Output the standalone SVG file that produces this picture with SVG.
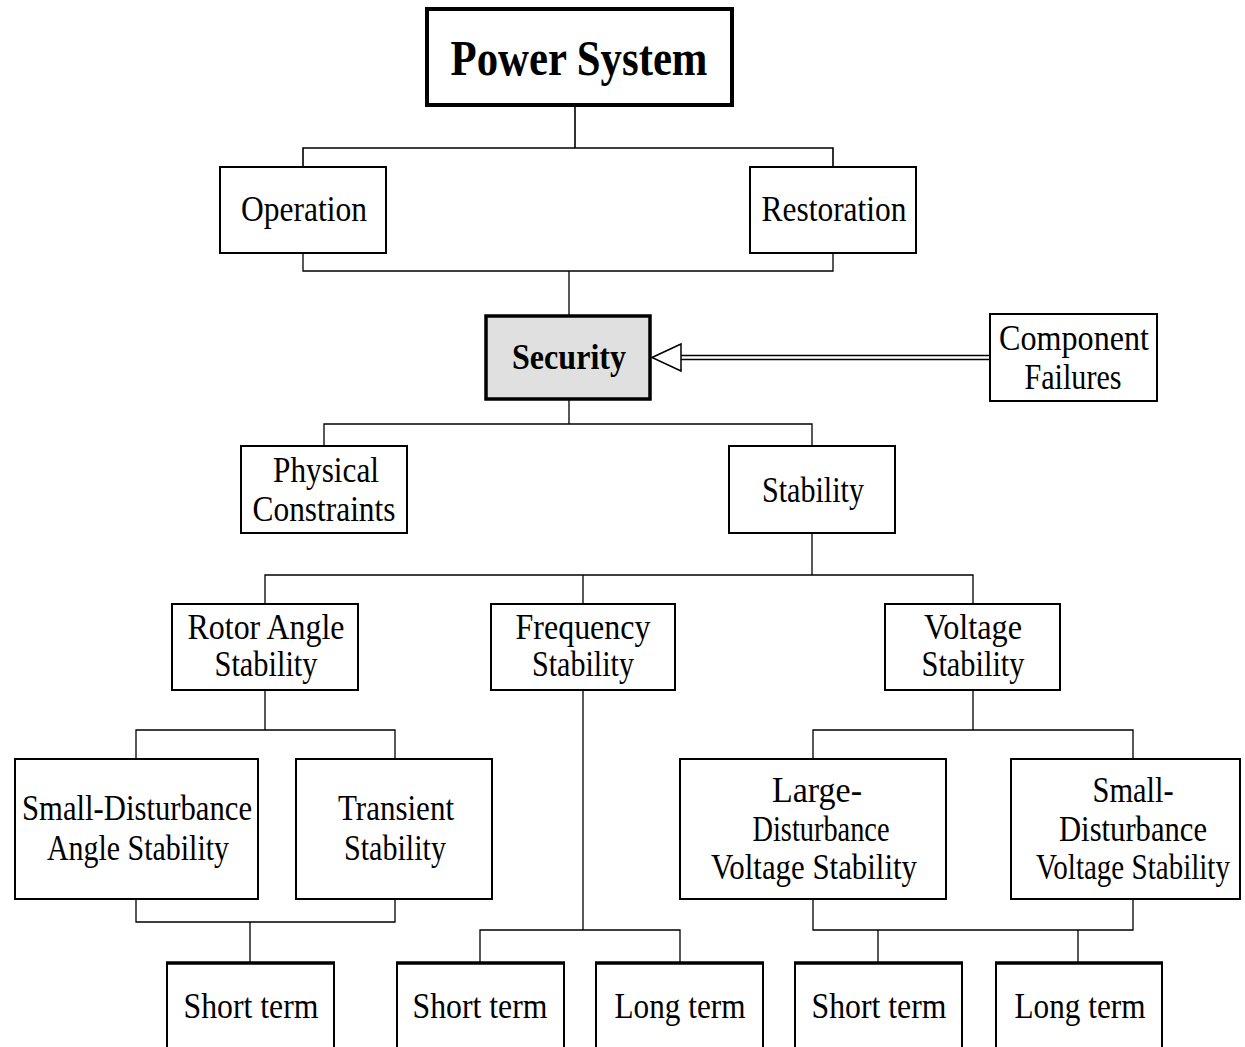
<svg xmlns="http://www.w3.org/2000/svg" width="1245" height="1047" viewBox="0 0 1245 1047">
<style>
.box{fill:#fff;stroke:#000;stroke-width:2}
.thick{stroke-width:4}
.sec{fill:#e0e0e0;stroke:#000;stroke-width:3.5}
.t{font-family:"Liberation Serif","Times New Roman",serif;font-size:35px;text-anchor:middle;fill:#000}
.b{font-weight:bold}
.c{fill:none;stroke:#000;stroke-width:1.3}
.top{stroke:#000;stroke-width:3.5}
</style>
<rect width="1245" height="1047" fill="#fff"/>
<g id="connectors">
<path class="c" d="M575,106V148M303,166V148H833V166" style="stroke-width:1.6"/>
<path class="c" d="M303,253V271H833V253M569,271V315"/>
<path class="c" d="M569,399V424M324,445V424H812V445"/>
<path class="c" d="M812,533V575M265,603V575H973V603M583,575V603"/>
<path class="c" d="M265,690V730M136,758V730H395V758"/>
<path class="c" d="M136,899V922H395V899M250,922V962"/>
<path class="c" d="M583,690V930M480,962V930H680V962"/>
<path class="c" d="M973,690V730M813,758V730H1133V758"/>
<path class="c" d="M813,899V930H1133V899M878,930V962M1078,930V962"/>
<path class="c" d="M681,355.5H989M681,359.5H989" style="stroke-width:1.5"/>
<path d="M652,357.5L681,344V371Z" fill="#fff" stroke="#000" stroke-width="1.5"/>
</g>
<g id="power-system"><rect class="box thick" x="427" y="9" width="305" height="96"/><text class="t b" x="579" y="75" style="font-size:50px" textLength="257" lengthAdjust="spacingAndGlyphs">Power System</text></g>
<g id="operation"><rect class="box" x="220" y="167" width="166" height="86"/><text class="t" x="304" y="221" textLength="126" lengthAdjust="spacingAndGlyphs">Operation</text></g>
<g id="restoration"><rect class="box" x="750" y="167" width="166" height="86"/><text class="t" x="834" y="221" textLength="145" lengthAdjust="spacingAndGlyphs">Restoration</text></g>
<g id="security"><rect class="sec" x="486" y="316" width="164" height="83"/><text class="t b" x="569" y="369" style="font-size:36px" textLength="114" lengthAdjust="spacingAndGlyphs">Security</text></g>
<g id="component-failures"><rect class="box" x="990" y="314" width="167" height="87"/><text class="t" x="1074" y="350" textLength="150" lengthAdjust="spacingAndGlyphs">Component</text><text class="t" x="1073" y="389" textLength="97" lengthAdjust="spacingAndGlyphs">Failures</text></g>
<g id="physical-constraints"><rect class="box" x="241" y="446" width="166" height="87"/><text class="t" x="326" y="482" textLength="106" lengthAdjust="spacingAndGlyphs">Physical</text><text class="t" x="324" y="521" textLength="143" lengthAdjust="spacingAndGlyphs">Constraints</text></g>
<g id="stability"><rect class="box" x="729" y="446" width="166" height="87"/><text class="t" x="813" y="502" textLength="102" lengthAdjust="spacingAndGlyphs">Stability</text></g>
<g id="rotor-angle-stability"><rect class="box" x="172" y="604" width="186" height="86"/><text class="t" x="266" y="639" textLength="157" lengthAdjust="spacingAndGlyphs">Rotor Angle</text><text class="t" x="266" y="676" textLength="103" lengthAdjust="spacingAndGlyphs">Stability</text></g>
<g id="frequency-stability"><rect class="box" x="491" y="604" width="184" height="86"/><text class="t" x="583" y="639" textLength="135" lengthAdjust="spacingAndGlyphs">Frequency</text><text class="t" x="583" y="676" textLength="102" lengthAdjust="spacingAndGlyphs">Stability</text></g>
<g id="voltage-stability"><rect class="box" x="885" y="604" width="175" height="86"/><text class="t" x="973" y="639" textLength="98" lengthAdjust="spacingAndGlyphs">Voltage</text><text class="t" x="973" y="676" textLength="103" lengthAdjust="spacingAndGlyphs">Stability</text></g>
<g id="small-disturbance-angle"><rect class="box" x="15" y="759" width="243" height="140"/><text class="t" x="137" y="820" textLength="230" lengthAdjust="spacingAndGlyphs">Small-Disturbance</text><text class="t" x="138" y="860" textLength="182" lengthAdjust="spacingAndGlyphs">Angle Stability</text></g>
<g id="transient-stability"><rect class="box" x="296" y="759" width="196" height="140"/><text class="t" x="396" y="820" textLength="116" lengthAdjust="spacingAndGlyphs">Transient</text><text class="t" x="395" y="860" textLength="102" lengthAdjust="spacingAndGlyphs">Stability</text></g>
<g id="large-disturbance-voltage"><rect class="box" x="680" y="759" width="266" height="140"/><text class="t" x="817" y="802" textLength="90" lengthAdjust="spacingAndGlyphs">Large-</text><text class="t" x="821" y="841" textLength="137" lengthAdjust="spacingAndGlyphs">Disturbance</text><text class="t" x="814" y="879" textLength="206" lengthAdjust="spacingAndGlyphs">Voltage Stability</text></g>
<g id="small-disturbance-voltage"><rect class="box" x="1011" y="759" width="229" height="140"/><text class="t" x="1133" y="802" textLength="81" lengthAdjust="spacingAndGlyphs">Small-</text><text class="t" x="1133" y="841" textLength="148" lengthAdjust="spacingAndGlyphs">Disturbance</text><text class="t" transform="translate(1133,879) scale(0.83,1)" x="0" y="0">Voltage Stability</text></g>
<g id="angle-short-term"><rect class="box" x="167" y="963" width="167" height="100"/><path class="top" d="M166,963H335"/><text class="t" x="251" y="1018" textLength="135" lengthAdjust="spacingAndGlyphs">Short term</text></g>
<g id="frequency-short-term"><rect class="box" x="397" y="963" width="167" height="100"/><path class="top" d="M396,963H565"/><text class="t" x="480" y="1018" textLength="135" lengthAdjust="spacingAndGlyphs">Short term</text></g>
<g id="frequency-long-term"><rect class="box" x="596" y="963" width="167" height="100"/><path class="top" d="M595,963H764"/><text class="t" x="680" y="1018" textLength="131" lengthAdjust="spacingAndGlyphs">Long term</text></g>
<g id="voltage-short-term"><rect class="box" x="795" y="963" width="167" height="100"/><path class="top" d="M794,963H963"/><text class="t" x="879" y="1018" textLength="135" lengthAdjust="spacingAndGlyphs">Short term</text></g>
<g id="voltage-long-term"><rect class="box" x="996" y="963" width="166" height="100"/><path class="top" d="M995,963H1163"/><text class="t" x="1080" y="1018" textLength="131" lengthAdjust="spacingAndGlyphs">Long term</text></g>
</svg>
